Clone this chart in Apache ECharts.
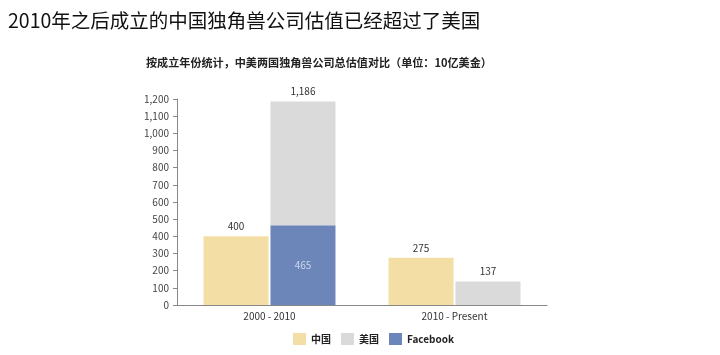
<!DOCTYPE html>
<html><head><meta charset="utf-8">
<script src="https://cdn.jsdelivr.net/npm/echarts@6/dist/echarts.min.js"></script>
<style>html,body{margin:0;padding:0;background:#fff}#c{width:720px;height:355px}</style>
</head><body><div id="c"></div>
<script>
const categories = ['2000 - 2010', '2010 - Present'];
const china = [400, 275];
const usTotal = [1186, 137];
const facebook = [465, 0];
const yTicks = [0, 100, 200, 300, 400, 500, 600, 700, 800, 900, 1000, 1100, 1200];

const usRest = usTotal.map((v, i) => v - facebook[i]);
const fmt = v => v.toLocaleString('en-US');
const font = '"Noto Sans CJK SC", "Noto Sans", sans-serif';

const chart = echarts.init(document.getElementById('c'));
chart.setOption({
  animation: false,
  textStyle: { fontFamily: font },
  title: [
    { text: '2010年之后成立的中国独角兽公司估值已经超过了美国', left: 3, top: 6,
      textStyle: { fontSize: 19.5, fontWeight: 'normal', color: '#111', fontFamily: font } },
    { text: '按成立年份统计，中美两国独角兽公司总估值对比（单位：10亿美金）', left: 141, top: 52,
      textStyle: { fontSize: 11.1, fontWeight: 'bold', color: '#222', fontFamily: font } }
  ],
  legend: {
    data: ['中国', '美国', 'Facebook'], bottom: 5, left: 288,
    itemWidth: 13, itemHeight: 12, itemGap: 10, icon: 'rect',
    textStyle: { fontSize: 10, fontWeight: 'bold', color: '#222', fontFamily: font }
  },
  grid: { left: 177, right: 173, top: 99, bottom: 50, containLabel: false },
  xAxis: {
    type: 'category', data: categories,
    axisLine: { lineStyle: { color: '#888' } },
    axisTick: { show: false },
    axisLabel: { fontSize: 10, color: '#333', margin: 6 }
  },
  yAxis: {
    type: 'value', min: 0, max: 1200, interval: 100,
    splitLine: { show: false },
    axisLine: { show: true, lineStyle: { color: '#888' } },
    axisTick: { show: true, inside: false, length: 4, lineStyle: { color: '#888' } },
    axisLabel: { fontSize: 10, color: '#444', margin: 8, formatter: v => yTicks.includes(v) ? fmt(v) : '' }
  },
  series: [
    { name: '中国', type: 'bar', data: china, barWidth: 65, barGap: '3%',
      itemStyle: { color: '#F3DFA6' },
      label: { show: true, position: 'top', fontSize: 10, color: '#333', formatter: p => fmt(p.value) } },
    { name: 'Facebook', type: 'bar', stack: 'us', data: facebook, barWidth: 65,
      itemStyle: { color: '#6C86BA' },
      label: { show: true, position: 'inside', fontSize: 10, color: '#C9D6EE',
        formatter: p => p.value ? fmt(p.value) : '' } },
    { name: '美国', type: 'bar', stack: 'us', data: usRest, barWidth: 65,
      itemStyle: { color: '#DADADA' },
      label: { show: true, position: 'top', fontSize: 10, color: '#333',
        formatter: p => fmt(usTotal[p.dataIndex]) } }
  ]
});
</script></body></html>
